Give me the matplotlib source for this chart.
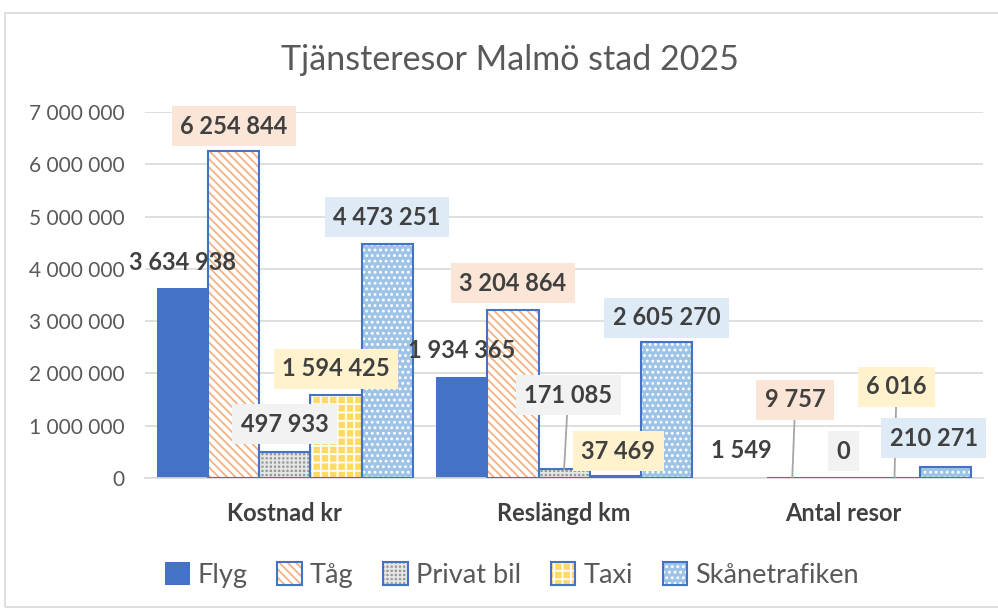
import numpy as np
import matplotlib
matplotlib.use('Agg')
import matplotlib.pyplot as plt
from matplotlib.patches import Patch, Rectangle
from matplotlib.ticker import FuncFormatter

plt.rcParams['font.family'] = ['Lato', 'DejaVu Sans']
plt.rcParams['hatch.linewidth'] = 1.3

# data
categories = ['Kostnad kr', 'Reslängd km', 'Antal resor']
series = ['Flyg', 'Tåg', 'Privat bil', 'Taxi', 'Skånetrafiken']
flyg = [3634938, 1934365, 1549]
tag = [6254844, 3204864, 9757]
privat_bil = [497933, 171085, 0]
taxi = [1594425, 37469, 6016]
skanetrafiken = [4473251, 2605270, 210271]
values = [flyg, tag, privat_bil, taxi, skanetrafiken]
y_ticks = np.arange(0, 7000001, 1000000)

# styles
blue = '#4472C4'
faces = [blue, 'white', '#9A9A9A', '#FFD966', '#9DC3E6']
hatches = [None, '\\\\\\\\', '++++', '++', '...']
hatch_cols = [blue, '#F4B183', '#E6E6E6', 'white', 'white']
label_bg = [None, '#FBE5D6', '#F2F2F2', '#FFF2CC', '#DEEBF7']
# label offsets (pixels) from bar top, per series and category
offsets = [[(0, 26), (0, 26), (0, 27)],
           [(0, 25), (0, 27), (3, 78)],
           [(0, 28), (4, 74), (0, 27)],
           [(0, 26), (3, 25), (2, 91)],
           [(0, 27), (0, 24), (-12, 29)]]
leaders = {(2, 1), (1, 2), (3, 2)}

def fmt(v):
    return '{:,}'.format(int(v)).replace(',', ' ')

fig = plt.figure(figsize=(9.98, 6.09), dpi=100)
ax = fig.add_axes([0.1455, 0.215, 0.8395, 0.601])

x = np.arange(len(categories))
w = 0.183
handles = []
for j, vals in enumerate(values):
    xs = x + (j - 2) * w
    if j == 0:
        ax.bar(xs, vals, w, color=blue, linewidth=0, zorder=2)
        handles.append(Patch(facecolor=blue, edgecolor=blue, linewidth=0))
    else:
        ax.bar(xs, vals, w, facecolor=faces[j], hatch=hatches[j],
               edgecolor=hatch_cols[j], linewidth=0, zorder=2)
        ax.bar(xs, vals, w, facecolor='none', edgecolor=blue, linewidth=1.5, zorder=3)
        handles.append((Patch(facecolor=faces[j], hatch=hatches[j], edgecolor=hatch_cols[j], linewidth=0),
                        Patch(facecolor='none', edgecolor=blue, linewidth=1.5)))
    for i, v in enumerate(vals):
        bbox = None
        if label_bg[j]:
            bbox = dict(boxstyle='square,pad=0.36', facecolor=label_bg[j], edgecolor='none')
        arrow = None
        if (j, i) in leaders:
            arrow = dict(arrowstyle='-', color='#A6A6A6', linewidth=1.3, shrinkA=0, shrinkB=0)
        ax.annotate(fmt(v), xy=(xs[i], v), xytext=offsets[j][i], textcoords='offset pixels',
                    ha='center', va='center', fontsize=17, fontweight='bold', color='#404040',
                    bbox=bbox, arrowprops=arrow, zorder=5)

ax.set_xlim(-0.5, 2.5)
ax.set_ylim(0, 7000000)
ax.set_yticks(y_ticks)
ax.yaxis.set_major_formatter(FuncFormatter(lambda v, p: fmt(v)))
ax.set_xticks(x)
ax.set_xticklabels(categories, fontsize=17, fontweight='bold', color='#404040')
ax.tick_params(axis='y', length=0, pad=15, labelsize=15, labelcolor='#595959')
ax.tick_params(axis='x', length=0, pad=17)
ax.grid(axis='y', color='#D9D9D9', linewidth=1.2)
ax.set_axisbelow(True)
for s in ['top', 'right', 'left']:
    ax.spines[s].set_visible(False)
ax.spines['bottom'].set_color('#D9D9D9')
ax.spines['bottom'].set_linewidth(1.2)

fig.text(0.511, 0.901, 'Tjänsteresor Malmö stad 2025', ha='center', va='center',
         fontsize=24.5, color='#595959')
fig.legend(handles, series, loc='center', bbox_to_anchor=(0.513, 0.056), ncol=5,
           frameon=False, fontsize=19.5, handlelength=0.9, handleheight=0.9,
           handletextpad=0.3, columnspacing=1.1, labelcolor='#595959')
fig.patches.append(Rectangle((0.005, 0.003), 1.2, 0.976, transform=fig.transFigure,
                             facecolor='none', edgecolor='#D9D9D9', linewidth=1.2))

fig.savefig('out.png', dpi=100)
